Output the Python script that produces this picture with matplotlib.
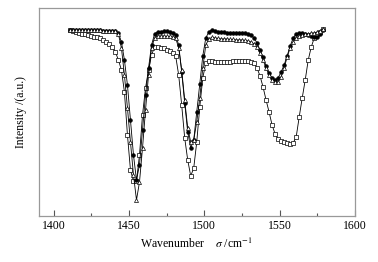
import numpy as np
import matplotlib
matplotlib.use('Agg')
import matplotlib.pyplot as plt
from matplotlib.ticker import MultipleLocator

plt.rcParams['font.family'] = ['Liberation Serif', 'DejaVu Serif']
plt.rcParams['mathtext.fontset'] = 'stix'

# wavenumber grid (cm-1) and the three spectra (a.u.)
wavenumber = np.arange(1411, 1580, 2)

circles = [186, 186, 186, 186, 186, 186, 186, 186, 185.5, 185.5, 185.5, 185, 185, 185, 185, 184.5,
           183, 174, 156, 131, 96, 61, 36, 51, 86, 121, 148, 171, 182, 184,
           184, 184.5, 184.5, 184, 183, 181, 171, 144, 113, 84, 68, 76, 104, 132, 160, 178,
           184, 186, 185, 184, 184, 183.5, 183, 183, 183, 183, 183, 183, 182.5, 182, 181,
           178, 173, 166, 159, 150, 143, 138, 136, 138, 144, 151, 160, 170, 178, 182,
           183, 183, 182, 181, 180, 179, 179, 182, 186]

triangles = [186, 186, 186, 186, 186, 186, 186, 186, 185.5, 185.5, 185.5, 185, 185, 185, 185, 184.5,
             182, 168, 141, 108, 74, 41, 16, 34, 68, 106, 141, 168, 178, 180,
             180, 180, 179.5, 179.5, 179, 178, 168, 146, 116, 88, 74, 76, 94, 118, 148, 171,
             177, 178.5, 178, 177.5, 177, 177, 177, 176.5, 176.5, 176, 176, 176, 175.5, 175, 174,
             172, 169, 163, 156, 148, 141, 136, 134, 134, 139, 148, 159, 168, 174, 178,
             180, 181, 182, 182, 183, 183, 184, 185, 187]

squares = [186, 185, 184, 183, 182, 181.5, 180.5, 180, 179, 178.5, 177.5, 176, 174, 172, 169, 164,
           156, 146, 124, 81, 46, 35, 35, 61, 101, 128, 146, 161, 169, 169,
           168, 167.5, 166, 165, 163, 160, 141, 111, 78, 56, 40, 48, 74, 109, 138, 153,
           155, 155, 154, 154, 154, 154, 154, 154, 154.5, 154.5, 154.5, 154.5, 155, 155, 154,
           153, 148, 140, 129, 116, 104, 91, 82, 77, 75, 74, 73, 72, 73, 79,
           99, 118, 136, 156, 169, 178, 182, 184, 187]

fig = plt.figure(figsize=(3.78, 2.62), dpi=100)
ax = fig.add_axes([0.102, 0.1756, 0.837, 0.794])

ax.plot(wavenumber, squares, color='black', lw=0.6, marker='s', ms=2.9,
        mfc='white', mec='black', mew=0.5)
ax.plot(wavenumber, circles, color='black', lw=0.6, marker='o', ms=2.7,
        mfc='black', mec='black', mew=0.4)
ax.plot(wavenumber, triangles, color='black', lw=0.6, marker='^', ms=2.9,
        mfc='white', mec='black', mew=0.5)

ax.set_xlim(1390, 1600)
ax.set_ylim(0, 208)
ax.xaxis.set_major_locator(MultipleLocator(50))
ax.xaxis.set_minor_locator(MultipleLocator(25))
ax.tick_params(axis='x', which='major', direction='in', length=4, width=0.8,
               color='#555555', labelsize=8.5, pad=3, top=False)
ax.tick_params(axis='x', which='minor', direction='in', length=2.5, width=0.8,
               color='#555555', top=False)
ax.set_yticks([])
for s in ax.spines.values():
    s.set_color('#999999')
    s.set_linewidth(0.9)

ax.set_xlabel('Wavenumber    $\\sigma$ /cm$^{-1}$', fontsize=8.5, labelpad=3)
ax.set_ylabel('Intensity /(a.u.)', fontsize=8.5, labelpad=8)

fig.savefig('out.png', dpi=100)
